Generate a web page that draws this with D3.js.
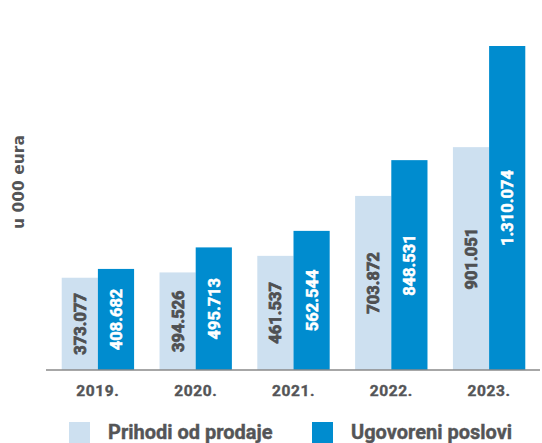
<!DOCTYPE html>
<html>
<head>
<meta charset="utf-8">
<script src="https://cdn.jsdelivr.net/npm/d3@7"></script>
<style>
  body { margin: 0; background: #fff; }
  svg { display: block; font-family: Roboto, "DejaVu Sans", sans-serif; }
</style>
</head>
<body>
<div id="chart"></div>
<script>
// data (u 000 eura)
var years = ["2019.", "2020.", "2021.", "2022.", "2023."];
var prihodi = [373.077, 394.526, 461.537, 703.872, 901.051];
var ugovoreni = [408.682, 495.713, 562.544, 848.531, 1310.074];
var seriesNames = ["Prihodi od prodaje", "Ugovoreni poslovi"];
var colors = ["#cde0f0", "#008ccf"];
var labelColors = ["#4f5052", "#ffffff"];
var textGray = "#545557";

var width = 542, height = 443;
var baseY = 370;

var svg = d3.select("#chart").append("svg")
  .attr("width", width)
  .attr("height", height);

var x0 = d3.scaleBand()
  .domain(years)
  .range([49, 538])
  .paddingInner(0.26)
  .paddingOuter(0.13);

var x1 = d3.scaleBand()
  .domain([0, 1])
  .range([0, x0.bandwidth()]);

var y = d3.scaleLinear()
  .domain([0, d3.max(ugovoreni)])
  .range([baseY, 46]);

var fmt = function (v) {
  // 1310.074 -> 1.310.074
  var s = v.toFixed(3).split(".");
  var intPart = s[0].replace(/\B(?=(\d{3})+(?!\d))/g, ".");
  return intPart + "." + s[1];
};

var rows = years.map(function (yr, i) {
  return { year: yr, vals: [prihodi[i], ugovoreni[i]] };
});

var groups = svg.selectAll(".grp")
  .data(rows)
  .enter().append("g")
  .attr("class", "grp")
  .attr("transform", d => "translate(" + x0(d.year) + ",0)");

var bars = groups.selectAll("g.bar")
  .data(d => d.vals.map((v, k) => ({ v: v, k: k })))
  .enter().append("g")
  .attr("class", "bar");

bars.append("rect")
  .attr("x", d => x1(d.k))
  .attr("y", d => y(d.v))
  .attr("width", x1.bandwidth())
  .attr("height", d => baseY - y(d.v))
  .attr("fill", d => colors[d.k]);

bars.append("text")
  .attr("transform", d => "translate(" + (x1(d.k) + x1.bandwidth() / 2) + "," + ((y(d.v) + baseY) / 2) + ") rotate(-90)")
  .attr("text-anchor", "middle")
  .attr("dy", "0.36em")
  .style("font-size", "16.5px")
  .style("font-weight", 700)
  .attr("fill", d => labelColors[d.k])
  .attr("stroke", d => labelColors[d.k])
  .attr("stroke-width", d => d.k === 0 ? 0.8 : 0.5)
  .text(d => fmt(d.v));

// x axis
var xAxis = svg.append("g")
  .attr("transform", "translate(0," + baseY + ")")
  .call(d3.axisBottom(x0).tickSize(0).tickPadding(15));
xAxis.select(".domain")
  .attr("d", "M46,0H540")
  .attr("stroke", "#8a8a8a")
  .attr("stroke-width", 1.5);
xAxis.selectAll("text")
  .attr("font-family", "Roboto, sans-serif")
  .style("font-size", "15.5px")
  .style("font-weight", 700)
  .style("letter-spacing", "0.6px")
  .attr("fill", textGray)
  .attr("stroke", textGray)
  .attr("stroke-width", 0.4);

// y label
svg.append("text")
  .attr("transform", "translate(18,182) rotate(-90)")
  .attr("text-anchor", "middle")
  .attr("dy", "0.36em")
  .attr("font-family", "'DejaVu Sans', sans-serif")
  .style("font-size", "15.5px")
  .style("font-weight", 700)
  .attr("fill", textGray)
  .text("u 000 eura");

// legend
var legendX = [69, 312];
var legend = svg.selectAll(".leg")
  .data(seriesNames)
  .enter().append("g")
  .attr("class", "leg")
  .attr("transform", (d, i) => "translate(" + legendX[i] + ",422)");
legend.append("rect")
  .attr("width", 21)
  .attr("height", 21)
  .attr("fill", (d, i) => colors[i]);
legend.append("text")
  .attr("x", 39)
  .attr("y", 16.5)
  .style("font-size", "20px")
  .style("font-weight", 700)
  .attr("fill", textGray)
  .attr("stroke", textGray)
  .attr("stroke-width", 0.4)
  .text(d => d);
</script>
</body>
</html>
